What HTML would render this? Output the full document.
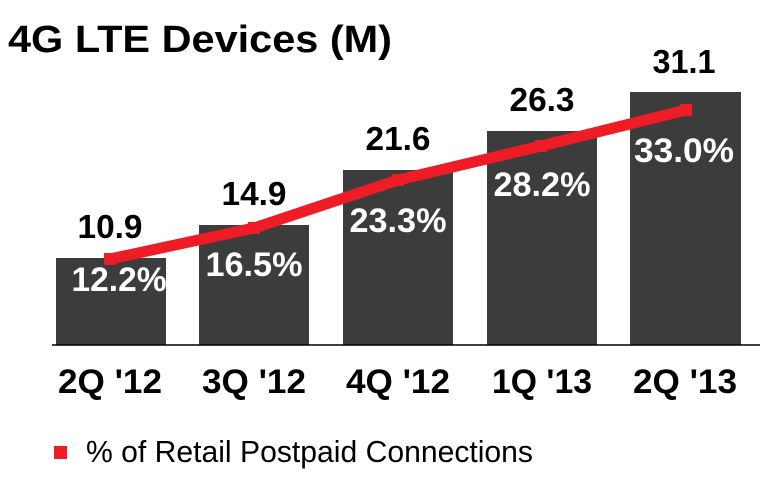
<!DOCTYPE html>
<html><head><style>body{margin:0;background:#fff}svg{display:block}</style></head>
<body>
<svg width="762" height="478" viewBox="0 0 762 478" xmlns="http://www.w3.org/2000/svg" font-family="Liberation Sans, Arial, sans-serif">
<rect width="762" height="478" fill="#fff"/>
<text x="8" y="52" font-size="38" font-weight="bold" textLength="384" lengthAdjust="spacingAndGlyphs">4G LTE Devices (M)</text>
<g fill="#3d3c3c">
<rect x="56" y="258" width="110" height="87"/>
<rect x="199" y="225" width="110" height="120"/>
<rect x="343" y="170" width="110" height="175"/>
<rect x="487" y="131" width="110" height="214"/>
<rect x="630" y="92" width="111" height="253"/>
</g>
<line x1="52" y1="345" x2="760" y2="345" stroke="#000" stroke-width="1.5"/>
<g font-size="33" font-weight="bold" text-anchor="middle" fill="#000" lengthAdjust="spacingAndGlyphs">
<text x="110" y="238" textLength="65" lengthAdjust="spacingAndGlyphs">10.9</text>
<text x="254" y="205" textLength="65" lengthAdjust="spacingAndGlyphs">14.9</text>
<text x="398" y="150" textLength="65" lengthAdjust="spacingAndGlyphs">21.6</text>
<text x="542" y="111" textLength="65" lengthAdjust="spacingAndGlyphs">26.3</text>
<text x="684" y="73" textLength="63" lengthAdjust="spacingAndGlyphs">31.1</text>
</g>
<polyline points="110,259 254,228 398,180 541,146 686,110" fill="none" stroke="#ee1c25" stroke-width="11"/>
<g fill="#ee1c25">
<rect x="104" y="253" width="12" height="12"/>
<rect x="248" y="222" width="12" height="12"/>
<rect x="392" y="174" width="12" height="12"/>
<rect x="535" y="140" width="12" height="12"/>
<rect x="680" y="104" width="12" height="12"/>
</g>
<g font-size="34" font-weight="bold" text-anchor="middle" fill="#fff">
<text x="119" y="291" textLength="95" lengthAdjust="spacingAndGlyphs">12.2%</text>
<text x="254" y="276" textLength="97" lengthAdjust="spacingAndGlyphs">16.5%</text>
<text x="398" y="232" textLength="97" lengthAdjust="spacingAndGlyphs">23.3%</text>
<text x="542" y="196" textLength="97" lengthAdjust="spacingAndGlyphs">28.2%</text>
<text x="684" y="162" textLength="100" lengthAdjust="spacingAndGlyphs">33.0%</text>
</g>
<g font-size="34" font-weight="bold" text-anchor="middle" fill="#000">
<text x="110" y="393" textLength="104" lengthAdjust="spacingAndGlyphs">2Q '12</text>
<text x="254" y="393" textLength="104" lengthAdjust="spacingAndGlyphs">3Q '12</text>
<text x="398" y="393" textLength="104" lengthAdjust="spacingAndGlyphs">4Q '12</text>
<text x="542" y="393" textLength="100" lengthAdjust="spacingAndGlyphs">1Q '13</text>
<text x="685" y="393" textLength="104" lengthAdjust="spacingAndGlyphs">2Q '13</text>
</g>
<rect x="54" y="446" width="13" height="13" fill="#ee1c25"/>
<text x="86" y="462" font-size="31" textLength="447" lengthAdjust="spacingAndGlyphs">% of Retail Postpaid Connections</text>
</svg>
</body></html>
